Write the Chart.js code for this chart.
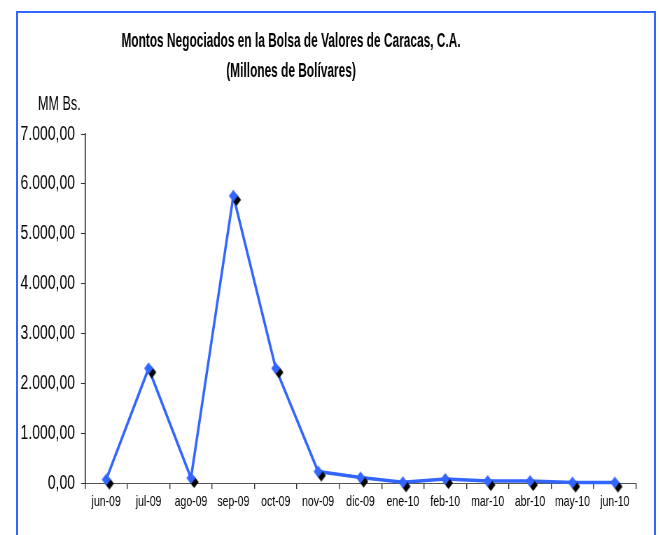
<!DOCTYPE html>
<html>
<head>
<meta charset="utf-8">
<script src="https://cdn.jsdelivr.net/npm/chart.js@4"></script>
<style>
    body { margin: 0; background: #fff; overflow: hidden; }
    #marco {
        position: absolute; left: 16px; top: 11px; width: 636px; height: 600px;
        border: 2px solid #3366ff; border-bottom: none;
    }
    #grafico {
        position: absolute; left: 0; top: 0;
        transform: scaleX(0.7); transform-origin: 0 0;
    }
</style>
</head>
<body>
<div id="marco"></div>
<canvas id="grafico" width="942" height="535"></canvas>
<script>
// Datos
const meses = ['jun-09', 'jul-09', 'ago-09', 'sep-09', 'oct-09', 'nov-09', 'dic-09',
               'ene-10', 'feb-10', 'mar-10', 'abr-10', 'may-10', 'jun-10'];
const montos = [70, 2300, 100, 5760, 2300, 230, 110, 15, 80, 40, 40, 10, 10];
const titulo = ['Montos Negociados en la Bolsa de Valores de Caracas, C.A.', '(Millones de Bolívares)'];
const unidad = 'MM Bs.';

// el lienzo se dibuja ancho y se comprime con css (letra angosta como el original)
const escala = 0.7;
const azul = '#3366ff';

function formato(v) {
    const partes = v.toFixed(2).split('.');
    return partes[0].replace(/\B(?=(\d{3})+(?!\d))/g, '.') + ',' + partes[1];
}

// rombo azul con sombra negra
function crearRombo() {
    const c = document.createElement('canvas');
    c.width = 28;
    c.height = 28;
    const g = c.getContext('2d');
    const rombo = (cx, cy, color) => {
        g.fillStyle = color;
        g.beginPath();
        g.moveTo(cx, cy - 6);
        g.lineTo(cx + 6.5, cy);
        g.lineTo(cx, cy + 6);
        g.lineTo(cx - 6.5, cy);
        g.closePath();
        g.fill();
    };
    rombo(14 + 4.5, 14 + 4, '#000');
    rombo(14, 14, azul);
    return c;
}

// texto estirado un poco en vertical
function textoAlto(ctx, texto, x, y, estiramiento) {
    ctx.save();
    ctx.translate(x, y);
    ctx.scale(1, estiramiento);
    ctx.fillText(texto, 0, 0);
    ctx.restore();
}

const textos = {
    id: 'textos',
    afterDraw(chart) {
        const ctx = chart.ctx;
        ctx.save();
        ctx.fillStyle = '#000';
        ctx.textAlign = 'center';
        ctx.textBaseline = 'middle';
        ctx.font = 'bold 17px "Liberation Sans", Arial, sans-serif';
        textoAlto(ctx, titulo[0], 291 / escala, 42, 1.15);
        textoAlto(ctx, titulo[1], 291 / escala, 72, 1.15);
        ctx.textAlign = 'left';
        ctx.font = '18px "Liberation Sans", Arial, sans-serif';
        textoAlto(ctx, unidad, 38 / escala, 105, 1.1);
        ctx.restore();
    }
};

const context = document.getElementById('grafico').getContext('2d');

const grafico = new Chart(context, {
    type: 'line',
    data: {
        labels: meses,
        datasets: [{
            data: montos,
            borderColor: azul,
            borderWidth: 3.5,
            tension: 0,
            pointStyle: crearRombo(),
            pointRadius: 7,
            clip: false
        }]
    },
    options: {
        responsive: false,
        animation: false,
        devicePixelRatio: 1,
        layout: {
            padding: { left: 0, right: 942 - 636 / escala, top: 134, bottom: 12 }
        },
        plugins: {
            legend: { display: false },
            title: { display: false },
            tooltip: { enabled: false }
        },
        scales: {
            x: {
                offset: true,
                afterFit: (s) => { s.height = 40; },
                grid: {
                    offset: true,
                    drawOnChartArea: false,
                    tickLength: 6,
                    color: '#333',
                    lineWidth: 1.4
                },
                border: { color: '#555', width: 1 },
                ticks: {
                    color: '#000',
                    font: { family: '"Liberation Sans", Arial, sans-serif', size: 15 },
                    padding: 4,
                    maxRotation: 0,
                    autoSkip: false
                }
            },
            y: {
                min: 0,
                max: 7000,
                afterFit: (s) => { s.width = 85 / escala; },
                grid: {
                    drawOnChartArea: false,
                    tickLength: 5.7,
                    color: '#333',
                    lineWidth: 1
                },
                border: { color: '#000', width: 1.4 },
                ticks: {
                    stepSize: 1000,
                    color: '#000',
                    font: { family: '"Liberation Sans", Arial, sans-serif', size: 20 },
                    padding: 8.6,
                    callback: (v) => formato(v)
                }
            }
        }
    },
    plugins: [textos]
});
</script>
</body>
</html>
